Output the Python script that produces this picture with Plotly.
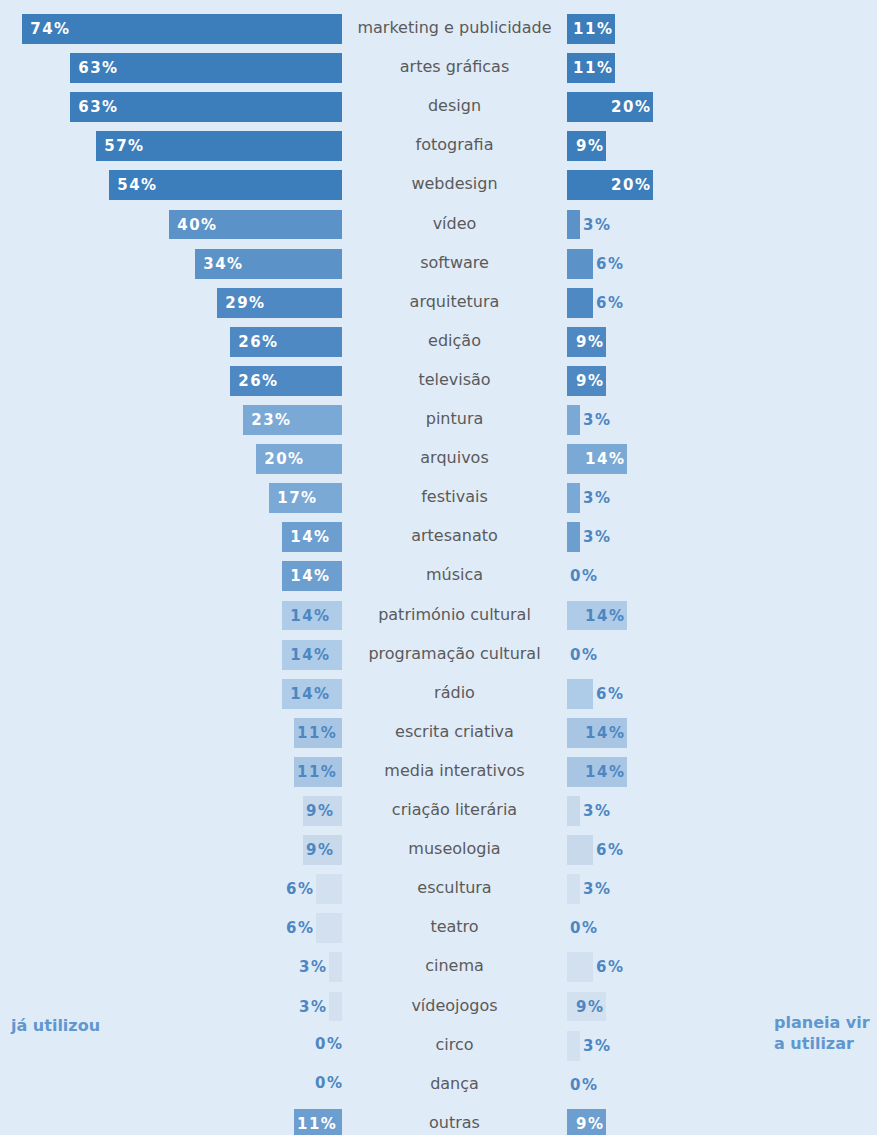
import plotly.graph_objects as go

# Áreas criativas e percentagens de utilização
categorias = [
    "marketing e publicidade", "artes gráficas", "design", "fotografia", "webdesign",
    "vídeo", "software", "arquitetura", "edição", "televisão",
    "pintura", "arquivos", "festivais", "artesanato", "música",
    "património cultural", "programação cultural", "rádio", "escrita criativa",
    "media interativos", "criação literária", "museologia", "escultura", "teatro",
    "cinema", "vídeojogos", "circo", "dança", "outras",
]
ja_utilizou = [74, 63, 63, 57, 54, 40, 34, 29, 26, 26, 23, 20, 17, 14, 14,
               14, 14, 14, 11, 11, 9, 9, 6, 6, 3, 3, 0, 0, 11]
planeia_utilizar = [11, 11, 20, 9, 20, 3, 6, 6, 9, 9, 3, 14, 3, 3, 0,
                    14, 0, 6, 14, 14, 3, 6, 3, 0, 6, 9, 3, 0, 9]

# Tom de cada linha (escuro -> claro)
tons = (["#3C7DBB"] * 5 + ["#5B92C8"] * 2 + ["#4F89C3"] * 3 + ["#7BA9D5"] * 3
        + ["#6C9ECF"] * 2 + ["#AECBE7"] * 3 + ["#A8C6E4"] * 2 + ["#C8D9EC"] * 2
        + ["#D3E0EF"] * 6 + ["#6C9ECF"])
texto_branco = [True] * 15 + [False] * 13 + [True]

FUNDO = "#E0EBF8"
AZUL_TXT = "#4D86C1"
W, H = 877, 1135
ESCALA = 4.32          # px por ponto percentual
BASE_ESQ, BASE_DIR = 342, 567
PASSO, Y0 = 39.1, 29   # espaçamento entre linhas e centro da primeira
ESP_FINO = "\u200a"

linhas = list(range(len(categorias)))


def rotulo(v, margem=False):
    """Percentagem com ligeiro espaçamento entre caracteres."""
    s = ESP_FINO.join(f"{v}%")
    return (" " + s) if margem else s


def estilo_texto(valores):
    pos, cor = [], []
    for v, branco in zip(valores, texto_branco):
        dentro = v >= 9
        if v == 0:
            pos.append("none")
        else:
            pos.append("inside" if dentro else "outside")
        cor.append("white" if (dentro and branco) else AZUL_TXT)
    return pos, cor


pos_e, cor_e = estilo_texto(ja_utilizou)
pos_d, cor_d = estilo_texto(planeia_utilizar)
pos_d = ["outside" if p == "none" else p for p in pos_d]

txt_e = [rotulo(v, margem=v >= 14) for v in ja_utilizou]
txt_d = [rotulo(v) for v in planeia_utilizar]

fonte_pct = dict(family="DejaVu Sans", size=15, weight="bold")

fig = go.Figure()
fig.add_trace(go.Bar(
    x=ja_utilizou, y=linhas, orientation="h", xaxis="x", yaxis="y",
    marker=dict(color=tons, line=dict(width=0)), width=0.767,
    text=txt_e, textposition=pos_e, insidetextanchor="end",
    textfont=dict(color=cor_e, **fonte_pct),
    constraintext="none", cliponaxis=False, hoverinfo="skip",
))
# rótulos dos valores nulos à esquerda, encostados à base
zeros_e = [i for i, v in enumerate(ja_utilizou) if v == 0]
fig.add_trace(go.Scatter(
    x=[ja_utilizou[i] for i in zeros_e], y=zeros_e, mode="text",
    text=[rotulo(ja_utilizou[i]) for i in zeros_e], textposition="middle left",
    xaxis="x", yaxis="y", textfont=dict(color=AZUL_TXT, **fonte_pct),
    cliponaxis=False, hoverinfo="skip",
))
fig.add_trace(go.Bar(
    x=planeia_utilizar, y=linhas, orientation="h", xaxis="x3", yaxis="y",
    marker=dict(color=tons, line=dict(width=0)), width=0.767,
    text=txt_d, textposition=pos_d, insidetextanchor="end",
    textfont=dict(color=cor_d, **fonte_pct),
    constraintext="none", cliponaxis=False, hoverinfo="skip",
))
fig.add_trace(go.Scatter(
    x=[0] * len(categorias), y=linhas, mode="text", text=categorias,
    xaxis="x2", yaxis="y", textposition="middle center",
    textfont=dict(family="DejaVu Sans", size=16, color="#5A5A5A"),
    hoverinfo="skip", cliponaxis=False,
))

eixo_oculto = dict(visible=False, showgrid=False, zeroline=False, fixedrange=True)
y_topo = -Y0 / PASSO
y_fundo = (H - Y0) / PASSO
fonte_lado = dict(family="DejaVu Sans", size=16, color="#5F97CE")

fig.update_layout(
    width=W, height=H,
    margin=dict(l=0, r=0, t=0, b=0),
    paper_bgcolor=FUNDO, plot_bgcolor=FUNDO,
    showlegend=False, bargap=0,
    xaxis=dict(domain=[0, BASE_ESQ / W], range=[BASE_ESQ / ESCALA, 0], anchor="y", **eixo_oculto),
    xaxis2=dict(domain=[BASE_ESQ / W, BASE_DIR / W], range=[-1, 1], anchor="y", **eixo_oculto),
    xaxis3=dict(domain=[BASE_DIR / W, 1], range=[0, (W - BASE_DIR) / ESCALA], anchor="y", **eixo_oculto),
    yaxis=dict(domain=[0, 1], range=[y_fundo, y_topo], **eixo_oculto),
    annotations=[
        dict(text="<b>já utilizou</b>", xref="paper", yref="paper",
             x=8 / W, y=1 - 1025 / H, xanchor="left", yanchor="middle",
             showarrow=False, align="left", font=fonte_lado),
        dict(text="<b>planeia vir<br>a utilizar</b>", xref="paper", yref="paper",
             x=772 / W, y=1 - 1033 / H, xanchor="left", yanchor="middle",
             showarrow=False, align="left", font=fonte_lado),
    ],
)

fig.write_html("out.html", config={"displayModeBar": False})
